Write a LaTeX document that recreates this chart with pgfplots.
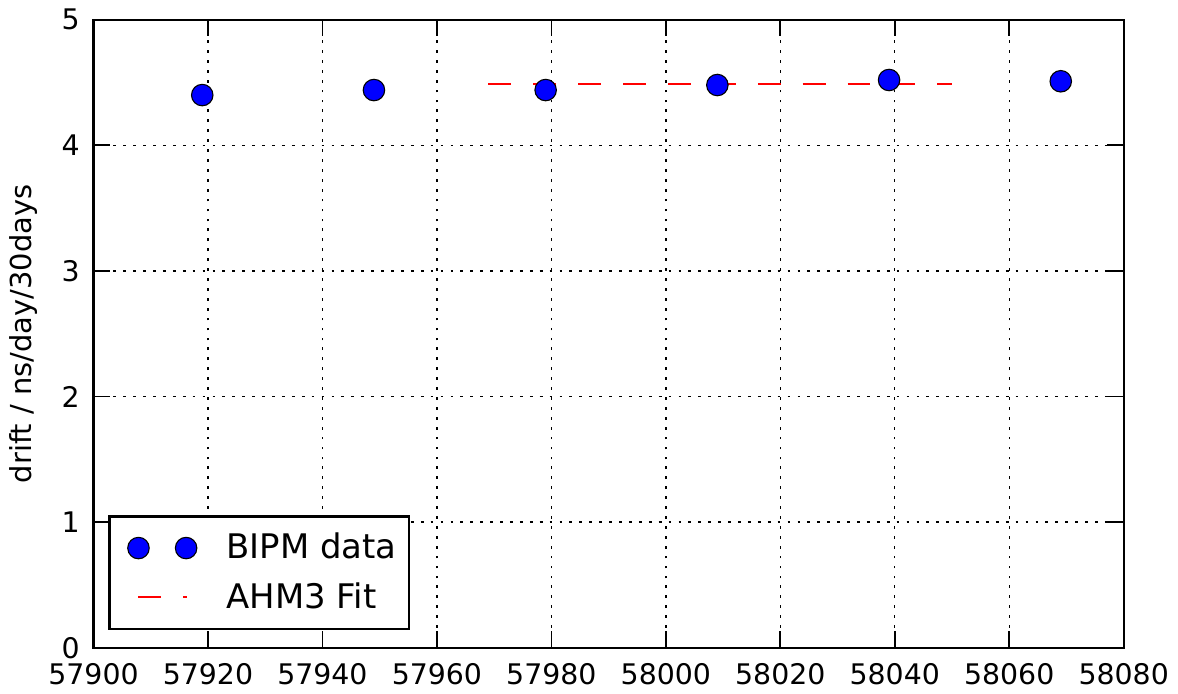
\documentclass[border=0pt]{standalone}
\usepackage{fontspec}
\setmainfont{DejaVu Sans}
\usepackage{pgfplots}
\pgfplotsset{compat=1.18}
\begin{document}
\begin{tikzpicture}
\begin{axis}[
  scale only axis,
  width=374pt, height=228pt,
  xmin=57900, xmax=58080, ymin=0, ymax=5,
  xtick={57900,57920,...,58080},
  ytick={0,1,2,3,4,5},
  /pgf/number format/assume math mode=true,
  /pgf/number format/set thousands separator={},
  scaled x ticks=false,
  tick label style={font=\fontsize{10.3}{12}\selectfont},
  xticklabel style={yshift=-2pt},
  yticklabel style={xshift=-1.5pt},
  tick align=inside,
  major tick length=6pt,
  tick style={black, line width=0.6pt},
  axis line style={line width=0.8pt},
  grid=major,
  grid style={black, line width=0.5pt, dash pattern=on 1pt off 2.6pt},
  ylabel={drift / ns/day/30days},
  ylabel style={font=\fontsize{10.5}{12}\selectfont, yshift=2pt},
  legend cell align=left,
  legend style={at={(0.0145,0.0286)}, anchor=south west, draw=black,
    line width=0.8pt, font=\fontsize{12.3}{14}\selectfont,
    inner xsep=2.5pt, inner ysep=4pt, row sep=3pt, rounded corners=0pt},
]
\addplot[only marks, mark=*, mark size=3.9pt,
  mark options={fill=blue, draw=black, line width=0.4pt},
  legend image code/.code={\path[draw=none, fill=none] (-8pt,0pt) -- (30pt,0pt);
    \draw[draw=black, fill=blue, line width=0.4pt, solid] (0pt,0pt) circle (3.9pt);
    \draw[draw=black, fill=blue, line width=0.4pt, solid] (17.3pt,0pt) circle (3.9pt);}]
coordinates {
(57919,4.40) (57949,4.44) (57979,4.44) (58009,4.48) (58039,4.52) (58069,4.51)
};
\addlegendentry{BIPM data}
\addplot[red, line width=0.9pt, dash pattern=on 8.3pt off 8pt,
  legend image code/.code={\path[draw=none, fill=none] (-8pt,0pt) -- (30pt,0pt);
    \draw[red, line width=0.9pt, dash pattern=on 8.3pt off 8pt] (0pt,0pt) -- (17.6pt,0pt);}]
coordinates {(57969,4.49) (58050,4.49)};
\addlegendentry{AHM3 Fit}
\end{axis}
\end{tikzpicture}
\end{document}
